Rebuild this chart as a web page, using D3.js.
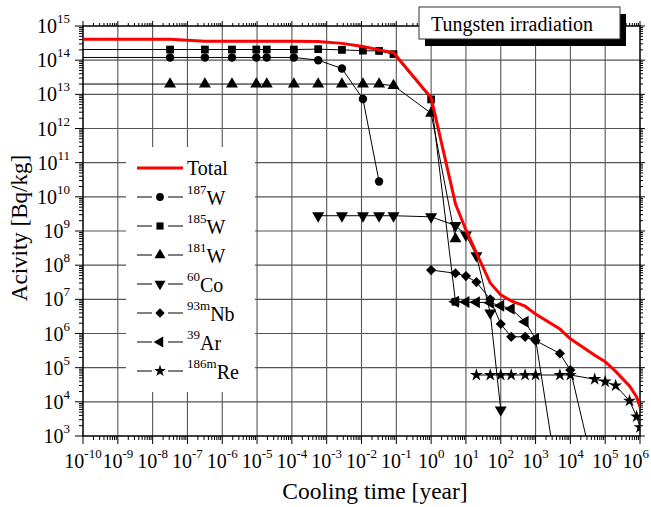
<!DOCTYPE html>
<html>
<head>
<meta charset="utf-8">
<script src="https://cdn.jsdelivr.net/npm/d3@7"></script>
<style>
  body { margin: 0; background: #fff; }
  text { font-family: "Liberation Serif", "Times New Roman", serif; }
</style>
</head>
<body>
<div id="chart"></div>
<script>
// cooling times in years (first one is the start of the axis, drawn without marker)
const times = [1e-10, 3.17e-8, 3.17e-7, 1.9e-6, 9.5e-6, 1.9e-5, 1.14e-4, 5.7e-4, 2.74e-3, 1.1e-2, 3.2e-2, 8.3e-2,
  1, 5, 10, 20, 50, 100, 200, 500, 1e3, 5e3, 1e4, 5e4, 1e5, 2e5, 5e5, 8e5, 1e6];

const _ = null;
const total  = [4.1e14, 4.1e14, 3.6e14, 3.6e14, 3.6e14, 3.6e14, 3.6e14, 3.5e14, 3.1e14, 2.5e14, 2.0e14, 1.65e14,
  8e12, 6.3e9, 1.07e9, 2.3e8, 3e7, 1.35e7, 9e6, 6.3e6, 3.7e6, 1.35e6, 7e5, 2.3e5, 1.5e5, 7.8e4, 2.9e4, 1.4e4, 7e3];
const w187   = [1.2e14, 1.2e14, 1.2e14, 1.2e14, 1.2e14, 1.2e14, 1.2e14, 1.0e14, 5.7e13, 7.3e12, 2.8e10, _,
  _, _, _, _, _, _, _, _, _, _, _, _, _, _, _, _, _];
const w185   = [2.05e14, 2.05e14, 2.05e14, 2.05e14, 2.05e14, 2.05e14, 2.05e14, 2.1e14, 2.0e14, 1.9e14, 1.86e14, 1.5e14,
  7.1e12, 8.5e6, _, _, _, _, _, _, _, _, _, _, _, _, _, _, _];
const w181   = [2.0e13, 2.0e13, 2.0e13, 2.0e13, 2.0e13, 2.0e13, 2.0e13, 2.0e13, 2.0e13, 2.0e13, 2.0e13, 1.8e13,
  2.8e12, 5.9e8, _, _, _, _, _, _, _, _, _, _, _, _, _, _, _];
const co60   = [_, _, _, _, _, _, _, 2.8e9, 2.8e9, 2.8e9, 2.8e9, 2.8e9,
  2.6e9, 1.45e9, 7.6e8, 1.9e8, 4e6, 5.8e3, _, _, _, _, _, _, _, _, _, _, _];
const nb93m  = [_, _, _, _, _, _, _, _, _, _, _, _,
  7.2e7, 5.8e7, 4.8e7, 3.2e7, 1.0e7, 1.9e6, 8e5, 8e5, 6.2e5, 2.6e5, 8.5e4, 80, _, _, _, _, _];
const ar39   = [_, _, _, _, _, _, _, _, _, _, _, _,
  _, 8.5e6, 8.3e6, 8.2e6, 7.9e6, 6.5e6, 5.3e6, 2.2e6, 7e5, 20, _, _, _, _, _, _, _];
const re186m = [_, _, _, _, _, _, _, _, _, _, _, _,
  _, _, _, 6.1e4, 6.1e4, 6.1e4, 6.1e4, 6.1e4, 6.1e4, 6.1e4, 6.1e4, 4.6e4, 3.9e4, 3e4, 1.07e4, 3.7e3, 1.8e3];

const xExponents = d3.range(-10, 7);
const yExponents = d3.range(3, 16);

const width = 651;
const height = 507;
const margin = { top: 26, right: 11, bottom: 71, left: 83 };

const svg = d3.select('#chart')
  .append('svg')
  .attr('width', width)
  .attr('height', height);

const x = d3.scaleLog()
  .domain([1e-10, 1e6])
  .range([margin.left, width - margin.right]);

const y = d3.scaleLog()
  .domain([1e3, 1e15])
  .range([height - margin.bottom, margin.top]);

const x0 = x.range()[0], x1 = x.range()[1];
const y0 = y.range()[0], y1 = y.range()[1];

// grid
svg.append('g')
  .attr('stroke', '#555')
  .attr('stroke-width', 1.1)
  .call(g => g.selectAll('.vg')
    .data(xExponents.slice(1, -1))
    .join('line')
      .attr('x1', d => x(Math.pow(10, d))).attr('x2', d => x(Math.pow(10, d)))
      .attr('y1', y0).attr('y2', y1))
  .call(g => g.selectAll('.hg')
    .data(yExponents.slice(1, -1))
    .join('line')
      .attr('y1', d => y(Math.pow(10, d))).attr('y2', d => y(Math.pow(10, d)))
      .attr('x1', x0).attr('x2', x1));

// legend background hides the grid
svg.append('rect')
  .attr('x', 126).attr('y', 147)
  .attr('width', 129).attr('height', 245)
  .attr('fill', '#fff');

// ticks (outside on all four sides)
const minor = [];
for (let k = -10; k < 6; k++) for (let m = 2; m < 10; m++) minor.push(m * Math.pow(10, k));
const minorY = [];
for (let k = 3; k < 15; k++) for (let m = 2; m < 10; m++) minorY.push(m * Math.pow(10, k));

const ticks = svg.append('g').attr('stroke', '#000').attr('stroke-width', 1);
minor.forEach(v => {
  ticks.append('line').attr('x1', x(v)).attr('x2', x(v)).attr('y1', y0).attr('y2', y0 + 4);
  ticks.append('line').attr('x1', x(v)).attr('x2', x(v)).attr('y1', y1).attr('y2', y1 - 3);
});
xExponents.forEach(e => {
  const v = Math.pow(10, e);
  ticks.append('line').attr('x1', x(v)).attr('x2', x(v)).attr('y1', y0).attr('y2', y0 + 8);
  ticks.append('line').attr('x1', x(v)).attr('x2', x(v)).attr('y1', y1).attr('y2', y1 - 5);
});
minorY.forEach(v => {
  ticks.append('line').attr('y1', y(v)).attr('y2', y(v)).attr('x1', x0).attr('x2', x0 - 4);
  ticks.append('line').attr('y1', y(v)).attr('y2', y(v)).attr('x1', x1).attr('x2', x1 + 3);
});
yExponents.forEach(e => {
  const v = Math.pow(10, e);
  ticks.append('line').attr('y1', y(v)).attr('y2', y(v)).attr('x1', x0).attr('x2', x0 - 8);
  ticks.append('line').attr('y1', y(v)).attr('y2', y(v)).attr('x1', x1).attr('x2', x1 + 5);
});

// frame
svg.append('rect')
  .attr('x', x0).attr('y', y1)
  .attr('width', x1 - x0).attr('height', y0 - y1)
  .attr('fill', 'none')
  .attr('stroke', '#000')
  .attr('stroke-width', 1.5);

// tick labels
function power(sel, e) {
  sel.append('tspan').attr('font-size', '20px').text('10');
  sel.append('tspan').attr('font-size', '13px').attr('dy', -10).text(e);
}
svg.append('g').selectAll('text')
  .data(xExponents)
  .join('text')
    .attr('x', d => d === 6 ? 649 : x(Math.pow(10, d)))
    .attr('y', 468)
    .attr('text-anchor', d => d === 6 ? 'end' : 'middle')
    .each(function (d) { power(d3.select(this), d); });

svg.append('g').selectAll('text')
  .data(yExponents)
  .join('text')
    .attr('x', 70)
    .attr('y', d => y(Math.pow(10, d)) + 7)
    .attr('text-anchor', 'end')
    .each(function (d) { power(d3.select(this), d); });

// axis titles
svg.append('text')
  .attr('x', 375).attr('y', 499)
  .attr('text-anchor', 'middle')
  .attr('font-size', '23.5px')
  .text('Cooling time [year]');

svg.append('text')
  .attr('transform', 'translate(27,228) rotate(-90)')
  .attr('text-anchor', 'middle')
  .attr('font-size', '23px')
  .text('Acivity [Bq/kg]');

// data
const series = [
  { name: 'W', iso: '187', values: w187, symbol: d3.symbolCircle, size: 56, rot: 0 },
  { name: 'W', iso: '185', values: w185, symbol: d3.symbolSquare, size: 60, rot: 0 },
  { name: 'W', iso: '181', values: w181, symbol: d3.symbolTriangle, size: 62, rot: 0 },
  { name: 'Co', iso: '60', values: co60, symbol: d3.symbolTriangle, size: 62, rot: 180 },
  { name: 'Nb', iso: '93m', values: nb93m, symbol: d3.symbolSquare, size: 52, rot: 45 },
  { name: 'Ar', iso: '39', values: ar39, symbol: d3.symbolTriangle, size: 62, rot: -90 },
  { name: 'Re', iso: '186m', values: re186m, symbol: d3.symbolStar, size: 52, rot: 0 }
];

svg.append('clipPath').attr('id', 'plot')
  .append('rect')
  .attr('x', x0).attr('y', y1)
  .attr('width', x1 - x0).attr('height', y0 - y1);

const plot = svg.append('g').attr('clip-path', 'url(#plot)');

const line = d3.line()
  .defined(d => d.v != null)
  .x(d => x(d.t))
  .y(d => y(d.v));

const pts = vals => times.map((t, i) => ({ t, v: vals[i], i }));

series.forEach(s => {
  plot.append('path')
    .datum(pts(s.values))
    .attr('d', line)
    .attr('fill', 'none')
    .attr('stroke', '#000')
    .attr('stroke-width', 1);
  plot.append('g').selectAll('path')
    .data(pts(s.values).filter(d => d.v != null && d.i > 0))
    .join('path')
      .attr('transform', d => `translate(${x(d.t)},${y(d.v)}) rotate(${s.rot})`)
      .attr('d', d3.symbol(s.symbol, s.size))
      .attr('fill', '#000');
});

plot.append('path')
  .datum(pts(total))
  .attr('d', line)
  .attr('fill', 'none')
  .attr('stroke', '#ff0000')
  .attr('stroke-width', 3);

// legend
const legend = svg.append('g');
const rowY = i => 168 + 29 * i;

legend.append('line')
  .attr('x1', 137).attr('x2', 183)
  .attr('y1', rowY(0)).attr('y2', rowY(0))
  .attr('stroke', '#ff0000').attr('stroke-width', 3);
legend.append('text')
  .attr('x', 187).attr('y', rowY(0) + 7)
  .attr('font-size', '20px')
  .text('Total');

series.forEach((s, k) => {
  const yy = rowY(k + 1);
  legend.append('line').attr('x1', 137).attr('x2', 152).attr('y1', yy).attr('y2', yy).attr('stroke', '#000');
  legend.append('line').attr('x1', 168).attr('x2', 183).attr('y1', yy).attr('y2', yy).attr('stroke', '#000');
  legend.append('path')
    .attr('transform', `translate(160,${yy}) rotate(${s.rot})`)
    .attr('d', d3.symbol(s.symbol, s.size * 0.85))
    .attr('fill', '#000');
  const t = legend.append('text').attr('x', 187).attr('y', yy + 8);
  t.append('tspan').attr('font-size', '13px').attr('dy', -11).text(s.iso);
  t.append('tspan').attr('font-size', '20px').attr('dy', 11).text(s.name);
});

// title box with shadow
svg.append('rect')
  .attr('x', 425).attr('y', 14)
  .attr('width', 201).attr('height', 32)
  .attr('fill', '#000');
svg.append('rect')
  .attr('x', 419).attr('y', 7)
  .attr('width', 201).attr('height', 32)
  .attr('fill', '#fff')
  .attr('stroke', '#333')
  .attr('stroke-width', 1);
svg.append('text')
  .attr('x', 431).attr('y', 31)
  .attr('font-size', '20px')
  .text('Tungsten irradiation');
</script>
</body>
</html>
